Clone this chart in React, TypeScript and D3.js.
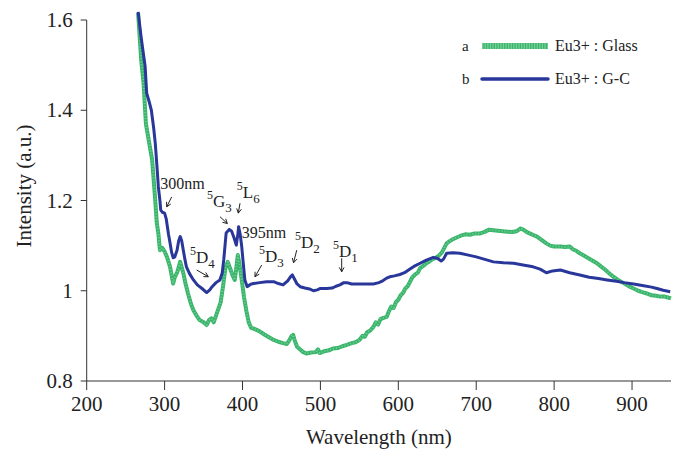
import React from "react";
import * as d3 from "d3";

// Excitation spectra of Eu3+ in glass and glass-ceramic (G-C)
const glassWavelength = [266,270,273,276,280,284,288,290,292,294,297,300,303,307,311,313,316,320,324,327,330,334,337,341,345,350,354,357,360,363,366,369,372,375,378,381,384,387,390,392,394,396,399,402,405,408,411,416,422,428,434,440,446,452,457,460,463,465,467,470,474,478,482,488,494,497,499,505,511,516,522,528,534,540,545,550,554,557,560,564,568,571,574,577,581,585,588,591,594,597,600,603,606,609,612,615,618,621,625,628,632,636,640,644,648,652,656,659,662,666,670,675,680,686,692,698,705,710,716,722,728,734,740,746,752,757,761,765,770,775,778,782,786,790,795,800,808,814,820,824,829,833,838,844,850,855,860,866,871,876,882,888,893,897,902,908,913,919,925,931,936,942,946,950];
const glassIntensity = [1.615,1.51,1.46,1.37,1.33,1.29,1.2,1.15,1.127,1.09,1.095,1.087,1.075,1.053,1.016,1.03,1.04,1.064,1.039,1.015,0.994,0.97,0.957,0.945,0.935,0.93,0.924,0.935,0.939,0.93,0.945,0.96,0.975,1.01,1.05,1.064,1.05,1.035,1.024,1.05,1.079,1.06,1.024,0.985,0.955,0.93,0.918,0.915,0.91,0.903,0.897,0.891,0.887,0.884,0.882,0.89,0.9,0.902,0.89,0.876,0.87,0.864,0.861,0.863,0.864,0.87,0.862,0.866,0.868,0.872,0.873,0.877,0.88,0.884,0.886,0.891,0.9,0.898,0.908,0.912,0.92,0.93,0.925,0.937,0.94,0.942,0.955,0.965,0.962,0.975,0.98,0.99,0.995,1.005,1.01,1.02,1.03,1.035,1.04,1.05,1.055,1.061,1.065,1.07,1.073,1.078,1.085,1.095,1.105,1.11,1.114,1.118,1.122,1.125,1.124,1.127,1.127,1.13,1.135,1.134,1.133,1.132,1.131,1.13,1.132,1.138,1.135,1.13,1.126,1.122,1.12,1.115,1.11,1.105,1.1,1.098,1.098,1.097,1.098,1.092,1.088,1.083,1.078,1.072,1.066,1.061,1.054,1.046,1.038,1.031,1.024,1.018,1.013,1.009,1.005,1.0,0.997,0.994,0.99,0.989,0.987,0.987,0.985,0.983];

const gcWavelength = [266,270,275,277,280,283,286,288,290,292,294,295,297,300,302,305,307,309,311,313,316,318,320,322,324,326,328,332,337,342,348,354,358,361,366,371,374,376,379,383,386,389,392,394,395,397,399,401,403,406,410,414,422,431,440,446,452,458,462,464,467,470,474,480,486,491,496,500,508,515,520,525,530,534,540,550,560,568,575,580,585,589,595,602,608,614,620,628,636,645,650,655,658,662,670,679,690,700,710,722,735,748,760,773,782,790,798,808,820,833,845,857,868,880,890,902,915,925,932,940,949];
const gcIntensity = [1.618,1.56,1.497,1.438,1.42,1.4,1.36,1.327,1.28,1.23,1.2,1.179,1.174,1.172,1.16,1.125,1.106,1.085,1.073,1.075,1.09,1.11,1.12,1.11,1.09,1.07,1.053,1.038,1.024,1.013,1.005,0.996,1.002,1.009,1.018,1.024,1.04,1.07,1.128,1.136,1.132,1.118,1.101,1.125,1.142,1.125,1.098,1.06,1.024,1.009,1.014,1.016,1.018,1.02,1.02,1.016,1.013,1.022,1.032,1.035,1.025,1.015,1.009,1.006,1.004,1.0,1.002,1.005,1.005,1.006,1.01,1.013,1.018,1.018,1.015,1.015,1.015,1.015,1.018,1.022,1.028,1.031,1.033,1.036,1.04,1.047,1.054,1.061,1.068,1.074,1.072,1.066,1.07,1.083,1.084,1.083,1.079,1.075,1.07,1.064,1.062,1.061,1.057,1.053,1.048,1.04,1.044,1.046,1.04,1.035,1.03,1.027,1.024,1.021,1.018,1.015,1.011,1.008,1.005,1.001,0.998];

const xTicks = [200, 300, 400, 500, 600, 700, 800, 900];
const yTicks = [0.8, 1.0, 1.2, 1.4, 1.6];
const yTickLabels = ["0.8", "1", "1.2", "1.4", "1.6"];

// Transition labels: anchor (wavelength, intensity) for the text, arrow from -> to
const termSup = ["5", "5", "5", "5", "5", "5"];
const termMain = ["G", "L", "D", "D", "D", "D"];
const termSub = ["3", "6", "4", "3", "2", "1"];
const termAnchor: [number, number][] = [[354.5, 1.186], [392.6, 1.206], [332.6, 1.061], [421.2, 1.064], [467.4, 1.095], [516.2, 1.075]];
const termArrow: [number, number, number, number][] = [
  [371.1, 1.164, 380.5, 1.149],
  [396.8, 1.194, 394.6, 1.172],
  [341.2, 1.046, 356.1, 1.031],
  [424.6, 1.057, 416.0, 1.031],
  [469.6, 1.09, 465.5, 1.062],
  [527.3, 1.072, 527.3, 1.042],
];
const peakLabels = ["300nm", "395nm"];
const peakAnchor: [number, number][] = [[294.5, 1.225], [399.0, 1.117]];
const peakArrow: ([number, number, number, number] | null)[] = [[309.1, 1.208, 302.7, 1.186], null];

const legendKeys = ["a", "b"];
const legendNames = ["Eu3+ : Glass", "Eu3+ : G-C"];

const W = 679;
const H = 449;
const GREEN = "#38b56a";
const GREEN_LIGHT = "#8fd9ab";
const BLUE = "#29369a";
const FONT = '"Liberation Serif", "Times New Roman", "DejaVu Serif", serif';

const x = d3.scaleLinear().domain([200, 950]).range([86.7, 671]);
const y = d3.scaleLinear().domain([0.8, 1.6]).range([381, 20]);

function Arrow({ a }: { a: [number, number, number, number] }) {
  const x1 = x(a[0]), y1 = y(a[1]), x2 = x(a[2]), y2 = y(a[3]);
  const ang = Math.atan2(y2 - y1, x2 - x1);
  const h = 5;
  const s = 0.5;
  const p1 = [x2 - h * Math.cos(ang - s), y2 - h * Math.sin(ang - s)];
  const p2 = [x2 - h * Math.cos(ang + s), y2 - h * Math.sin(ang + s)];
  return (
    <path
      d={`M${x1},${y1}L${x2},${y2}M${p1[0]},${p1[1]}L${x2},${y2}L${p2[0]},${p2[1]}`}
      fill="none"
      stroke="#222"
      strokeWidth={1}
    />
  );
}

export default function App() {
  const line = d3
    .line<[number, number]>()
    .x((d) => x(d[0]))
    .y((d) => y(d[1]));
  const glass: [number, number][] = glassWavelength.map((w, i) => [w, glassIntensity[i]]);
  const gc: [number, number][] = gcWavelength.map((w, i) => [w, gcIntensity[i]]);
  const [x0, x1] = x.range();
  const [yb, yt] = y.range();
  const txt = { fontFamily: FONT };

  return (
    <svg
      width={W}
      height={H}
      style={{ position: "absolute", left: 0, top: 0, background: "#fff", fontFamily: FONT }}
    >
      <defs>
        <clipPath id="plotArea">
          <rect x={x0} y={8} width={x1 - x0 + 4} height={yb - 8} />
        </clipPath>
      </defs>

      {/* spectra */}
      <g clipPath="url(#plotArea)" fill="none" strokeLinejoin="round">
        <path d={line(glass) || ""} stroke={GREEN} strokeWidth={4} />
        <path d={line(glass) || ""} stroke={GREEN_LIGHT} strokeWidth={2} strokeDasharray="1.2 1.8" opacity={0.6} />
        <path d={line(gc) || ""} stroke={BLUE} strokeWidth={3} />
      </g>

      {/* axes */}
      <g stroke="#333" strokeWidth={1}>
        <line x1={x0} x2={x1} y1={yb} y2={yb} />
        <line x1={x0} x2={x0} y1={yt} y2={yb} />
        {xTicks.map((t) => (
          <line key={t} x1={x(t)} x2={x(t)} y1={yb} y2={yb + 9} />
        ))}
        {yTicks.map((t) => (
          <line key={t} x1={x0 - 6} x2={x0} y1={y(t)} y2={y(t)} />
        ))}
      </g>
      <g fontSize={21} fill="#222" style={txt}>
        {xTicks.map((t) => (
          <text key={t} x={x(t)} y={yb + 30} textAnchor="middle" style={txt}>
            {t}
          </text>
        ))}
        {yTicks.map((t, i) => (
          <text key={t} x={x0 - 14} y={y(t) + 7} textAnchor="end" style={txt}>
            {yTickLabels[i]}
          </text>
        ))}
        <text x={(x0 + x1) / 2} y={444} textAnchor="middle" style={txt}>
          Wavelength (nm)
        </text>
        <text transform="translate(31,186) rotate(-90)" textAnchor="middle" style={txt}>
          Intensity (a.u.)
        </text>
      </g>

      {/* transition labels */}
      <g fill="#222" style={txt}>
        {termMain.map((m, i) => (
          <text key={i} x={x(termAnchor[i][0])} y={y(termAnchor[i][1])} style={txt}>
            <tspan fontSize={12} dy={-8}>{termSup[i]}</tspan>
            <tspan fontSize={17} dy={8}>{m}</tspan>
            <tspan fontSize={13} dy={5}>{termSub[i]}</tspan>
          </text>
        ))}
        {termArrow.map((a, i) => (
          <Arrow key={i} a={a} />
        ))}
        {peakLabels.map((p, i) => (
          <text key={p} x={x(peakAnchor[i][0])} y={y(peakAnchor[i][1])} fontSize={16} style={txt}>
            {p}
          </text>
        ))}
        {peakArrow.map((a, i) => (a ? <Arrow key={i} a={a} /> : null))}
      </g>

      {/* legend */}
      <g fontSize={16} fill="#222" style={txt}>
        {legendKeys.map((k, i) => {
          const ly = 46 + i * 33;
          return (
            <g key={k}>
              <text x={462} y={ly + 5} fontSize={15} style={txt}>{k}</text>
              {i === 0 ? (
                <>
                  <line x1={482} x2={548} y1={ly} y2={ly} stroke={GREEN} strokeWidth={6} />
                  <line x1={482} x2={548} y1={ly} y2={ly} stroke={GREEN_LIGHT} strokeWidth={6} strokeDasharray="1.3 1.3" opacity={0.7} />
                </>
              ) : (
                <line x1={482} x2={548} y1={ly} y2={ly} stroke={BLUE} strokeWidth={3.5} strokeLinecap="round" />
              )}
              <text x={555} y={ly + 5} style={txt}>{legendNames[i]}</text>
            </g>
          );
        })}
      </g>
    </svg>
  );
}
